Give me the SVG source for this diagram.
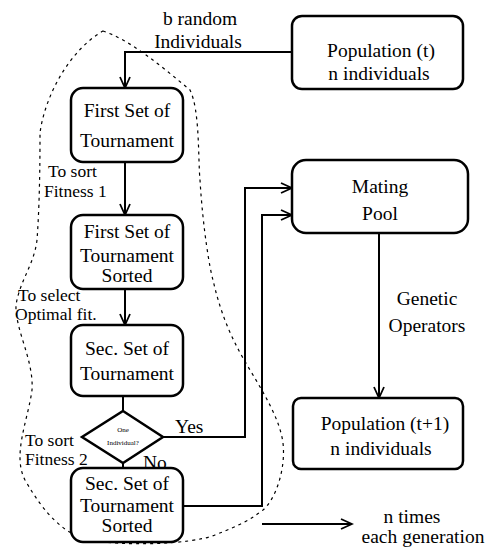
<svg xmlns="http://www.w3.org/2000/svg" width="488" height="550" viewBox="0 0 488 550" font-family="'Liberation Serif', 'Times New Roman', serif">
<style>
text{font-family:"Liberation Serif","Times New Roman",serif;font-size:19.5px;fill:#000}
.c{text-anchor:middle}
.lbl{font-size:17.5px}
.box{fill:#fff;stroke:#000;stroke-width:2.5}
.ln{fill:none;stroke:#000;stroke-width:2}
.small{font-size:7px}
</style>
<defs>
<marker id="ah" markerUnits="userSpaceOnUse" markerWidth="14" markerHeight="12" refX="12" refY="6" orient="auto">
<path d="M1,1 L12,6 L1,11" fill="none" stroke="#000" stroke-width="1.8"/>
</marker>
</defs>
<rect width="488" height="550" fill="#fff"/>
<path id="boundary" d="M103,31 C130,40 160,65 190,90 C200,110 198,160 200,180 C203,230 210,270 213,280 C222,320 235,345 250,370 C265,395 280,420 283,443 C286,470 275,500 263,510 C250,520 240,525 215,535 C190,545 120,546 90,540 C65,535 45,515 25,480 C12,455 28,420 32,390 C34,360 15,330 16,305 C20,280 34,265 37,240 C40,200 40,150 40,133 C45,95 70,50 103,31 Z" fill="none" stroke="#000" stroke-width="1.2" stroke-dasharray="3,4"/>
<g id="connectors">
<polyline class="ln" points="292,52 125,52 125,88" marker-end="url(#ah)"/>
<line class="ln" x1="125" y1="162" x2="125" y2="215" marker-end="url(#ah)"/>
<line class="ln" x1="125" y1="289" x2="125" y2="325" marker-end="url(#ah)"/>
<line class="ln" x1="123" y1="396" x2="123" y2="411"/>
<line class="ln" x1="123" y1="463" x2="123" y2="468"/>
<polyline class="ln" points="163,437 245,437 245,188 292,188" marker-end="url(#ah)"/>
<polyline class="ln" points="183,506 262,506 262,215 292,215" marker-end="url(#ah)"/>
<line class="ln" x1="379" y1="233" x2="379" y2="398" marker-end="url(#ah)"/>
<line class="ln" x1="262" y1="524" x2="352" y2="524" marker-end="url(#ah)"/>
<text class="c" x="200" y="25">b random</text>
<text class="c" x="198" y="48">Individuals</text>
<text class="lbl" x="48" y="177">To sort</text>
<text class="lbl" x="44" y="197">Fitness 1</text>
<text class="lbl" x="18" y="301">To select</text>
<text class="lbl" x="15" y="320">Optimal fit.</text>
<text x="175" y="433">Yes</text>
<text x="143" y="469">No</text>
<text class="lbl" x="25" y="446">To sort</text>
<text class="lbl" x="25" y="465">Fitness 2</text>
<text class="c" x="427" y="305">Genetic</text>
<text class="c" x="427" y="332">Operators</text>
<text class="c" x="412" y="523">n times</text>
<text class="c" x="423" y="543">each generation</text>
</g>
<g id="pop_t">
<rect class="box" x="292" y="16" width="171" height="73" rx="10"/>
<text class="c" x="381" y="57">Population (t)</text>
<text class="c" x="379" y="80">n individuals</text>
</g>
<g id="first_set">
<rect class="box" x="71" y="88" width="112" height="74" rx="12"/>
<text class="c" x="127" y="117">First Set of</text>
<text class="c" x="127" y="147">Tournament</text>
</g>
<g id="first_sorted">
<rect class="box" x="71" y="215" width="112" height="74" rx="12"/>
<text class="c" x="127" y="238">First Set of</text>
<text class="c" x="127" y="262">Tournament</text>
<text class="c" x="127" y="282">Sorted</text>
</g>
<g id="sec_set">
<rect class="box" x="71" y="325" width="112" height="71" rx="12"/>
<text class="c" x="127" y="355">Sec. Set of</text>
<text class="c" x="127" y="380">Tournament</text>
</g>
<g id="decision">
<polygon class="box" points="123,411 163,437 123,463 82,437"/>
<text class="c small" x="123" y="432">One</text>
<text class="c small" x="123" y="445">Individual?</text>
</g>
<g id="sec_sorted">
<rect class="box" x="71" y="468" width="112" height="74" rx="12"/>
<text class="c" x="127" y="490">Sec. Set of</text>
<text class="c" x="127" y="512">Tournament</text>
<text class="c" x="127" y="532">Sorted</text>
</g>
<g id="mating_pool">
<rect class="box" x="292" y="160" width="176" height="73" rx="14"/>
<text class="c" x="380" y="193">Mating</text>
<text class="c" x="380" y="220">Pool</text>
</g>
<g id="pop_t1">
<rect class="box" x="293" y="398" width="170" height="71" rx="8"/>
<text class="c" x="385" y="430">Population (t+1)</text>
<text class="c" x="381" y="455">n individuals</text>
</g>
</svg>
